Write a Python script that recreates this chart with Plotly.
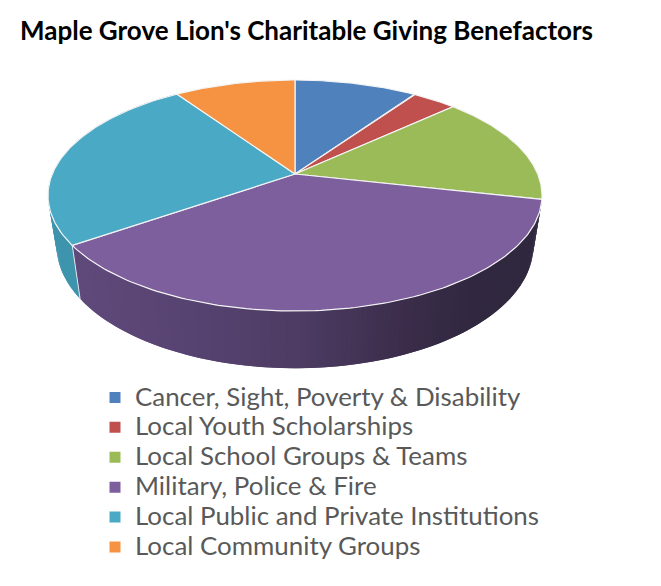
import numpy as np
import plotly.graph_objects as go

title_text = "Maple Grove Lion's Charitable Giving Benefactors"
categories = ["Cancer, Sight, Poverty &amp; Disability", "Local Youth Scholarships",
              "Local School Groups &amp; Teams", "Military, Police &amp; Fire",
              "Local Public and Private Institutions", "Local Community Groups"]
shares = [9.6, 3.5, 15.4, 36.8, 25.2, 9.5]
colors = ["#4F81BD", "#C0504D", "#9BBB59", "#7E5F9E", "#4AA9C4", "#F59343"]

# wall shading stops (pixel x -> colour)
wall_x = [70, 180, 300, 400, 470, 540]
wall_purple = [(0x60, 0x4A, 0x7C), (0x58, 0x44, 0x72), (0x4E, 0x3C, 0x64),
               (0x3C, 0x2E, 0x4C), (0x32, 0x29, 0x41), (0x30, 0x28, 0x3F)]
wall_teal = [(0x3E, 0x94, 0xAD)] * 6
wall_sets = {3: wall_purple, 4: wall_teal}

# perspective pie geometry in page pixels
CX, CY, RX, RY, K = 295.0, 174.0, 242.7, 111.5, 0.186
SX, SY, DEPTH = 0.965, 1.06, 49.0


def top(theta):
    u, v = np.sin(theta), np.cos(theta)
    w = 1 + K * v
    return CX + RX * u / w, CY - RY * v / w


def bottom(theta):
    x, y = top(theta)
    return CX + (x - CX) * SX, CY + (y - CY) * SY + DEPTH


edges = np.concatenate([[0], np.cumsum(shares)]) / np.sum(shares) * 2 * np.pi
fig = go.Figure()

# side wall, built from the same slice angles; each strip overlaps the next so no seams show
for i, stops in sorted(wall_sets.items(), reverse=True):
    n = max(2, int(np.degrees(edges[i + 1] - edges[i]) / 1.0))
    th = np.linspace(edges[i], edges[i + 1], n + 1)
    if i == 3:
        th = th[::-1]
    for j in range(n):
        a = th[j]
        b = th[min(j + 2, n)]
        xa, ya = top(a)
        xb, yb = top(b)
        xc, yc = bottom(b)
        xd, yd = bottom(a)
        mx = (xa + top(th[j + 1])[0]) / 2
        rgb = [np.interp(mx, wall_x, [s[c] for s in stops]) for c in range(3)]
        col = "rgb(%d,%d,%d)" % tuple(rgb)
        fig.add_trace(go.Scatter(x=[xa, xb, xc, xd, xa], y=[ya, yb, yc, yd, ya], mode="lines",
                                 fill="toself", fillcolor=col, line=dict(width=0),
                                 showlegend=False, hoverinfo="skip"))

# white seam at the front purple/teal edge of the wall
xa, ya = top(edges[4])
xd, yd = bottom(edges[4])
fig.add_trace(go.Scatter(x=[xa, xd], y=[ya, yd], mode="lines", line=dict(color="#DDE4EC", width=1),
                         showlegend=False, hoverinfo="skip"))

# top faces
for i, name in enumerate(categories):
    th = np.linspace(edges[i], edges[i + 1], 120)
    x, y = top(th)
    xs = np.concatenate([[CX], x, [CX]])
    ys = np.concatenate([[CY], y, [CY]])
    fig.add_trace(go.Scatter(x=xs, y=ys, mode="lines", fill="toself", fillcolor=colors[i],
                             line=dict(color="#F4F4F4", width=1.2), showlegend=False,
                             hovertemplate=name + ": %{customdata}%<extra></extra>",
                             customdata=[shares[i]] * len(xs)))

# legend entries
for i, name in enumerate(categories):
    fig.add_trace(go.Scatter(x=[None], y=[None], mode="markers",
                             name='<span style="font-size:25.9px">' + name + "</span>",
                             marker=dict(symbol="square", size=11, color=colors[i])))

fig.update_layout(
    width=661, height=586, autosize=False,
    margin=dict(l=0, r=0, t=0, b=0),
    paper_bgcolor="white", plot_bgcolor="white",
    title=dict(text="<b>" + title_text + "</b>", x=20 / 661, xanchor="left", xref="paper",
               y=1 - 31 / 586, yanchor="middle",
               font=dict(family="Lato", size=26, color="black")),
    xaxis=dict(range=[0, 661], visible=False, fixedrange=True),
    yaxis=dict(range=[586, 0], visible=False, fixedrange=True),
    legend=dict(x=95 / 661, y=1 - 377.5 / 586, xanchor="left", yanchor="top",
                font=dict(family="Lato", size=20.7, color="#595959"),
                bgcolor="rgba(0,0,0,0)", itemclick=False, itemdoubleclick=False,
                tracegroupgap=0),
    showlegend=True,
)

fig.write_html("out.html", config=dict(displayModeBar=False),
               post_script="document.body.style.margin='0';")
